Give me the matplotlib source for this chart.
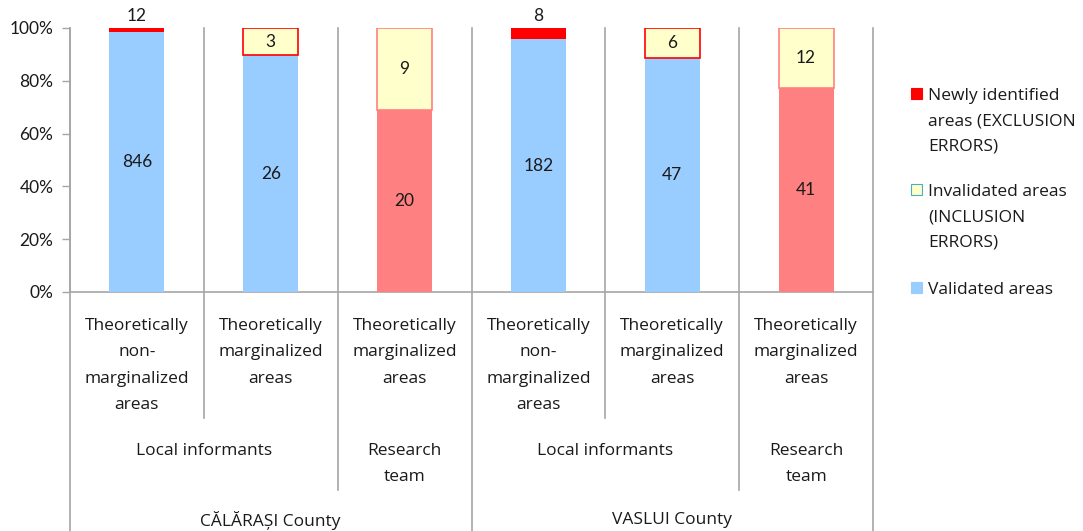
import matplotlib
matplotlib.use("Agg")
import matplotlib.pyplot as plt
import matplotlib.transforms as mtransforms
from matplotlib.patches import Rectangle

plt.rcParams['font.family'] = ['Lato', 'DejaVu Sans']
WIDE = ['Open Sans', 'DejaVu Sans']

# data
categories = ['Theoretically\nnon-\nmarginalized\nareas', 'Theoretically\nmarginalized\nareas',
              'Theoretically\nmarginalized\nareas', 'Theoretically\nnon-\nmarginalized\nareas',
              'Theoretically\nmarginalized\nareas', 'Theoretically\nmarginalized\nareas']
groups = ['Local informants', 'Research\nteam', 'Local informants', 'Research\nteam']
group_span = [(0, 1), (2, 2), (3, 4), (5, 5)]
counties = ['CĂLĂRAȘI County', 'VASLUI County']
county_span = [(0, 2), (3, 5)]

validated = [846, 26, 20, 182, 47, 41]
invalidated = [0, 3, 9, 0, 6, 12]
newly = [12, 0, 0, 8, 0, 0]
research = [False, False, True, False, False, True]

legend_labels = ['Newly identified\nareas (EXCLUSION\nERRORS)', 'Invalidated areas\n(INCLUSION\nERRORS)',
                 'Validated areas']

BLUE = '#99CCFF'
SALMON = '#FF8080'
YELLOW = '#FFFFCC'
RED = '#FF0000'
GRID = '#A6A6A6'
TXT = '#1a1a1a'

W, H = 1083, 531
fig = plt.figure(figsize=(W / 100, H / 100), dpi=100)
# axes: x 70..873 px, y 28..292 px
ax = fig.add_axes([70 / W, (H - 292) / H, (873 - 70) / W, 264 / H])

x = list(range(len(categories)))
totals = [v + i + n for v, i, n in zip(validated, invalidated, newly)]
pv = [100 * v / t for v, t in zip(validated, totals)]
pi = [100 * i / t for i, t in zip(invalidated, totals)]
pn = [100 * n / t for n, t in zip(newly, totals)]

bw = 0.41
vcol = [SALMON if r else BLUE for r in research]
ax.bar(x, pv, bw, color=vcol, linewidth=0, zorder=3)
iedge = [SALMON if r else RED for r in research]
for xi, b, h, ec in zip(x, pv, pi, iedge):
    if h > 0:
        ax.bar(xi, h, bw, bottom=b, color=YELLOW, edgecolor=ec, linewidth=1.2, zorder=3)
bottom3 = [a + b for a, b in zip(pv, pi)]
ax.bar(x, pn, bw, bottom=bottom3, color=RED, linewidth=0, zorder=3)

# value labels
for xi in x:
    ax.text(xi, pv[xi] / 2, str(validated[xi]), ha='center', va='center', fontsize=12.5, color=TXT, zorder=5)
    if invalidated[xi]:
        ax.text(xi, pv[xi] + pi[xi] / 2, str(invalidated[xi]), ha='center', va='center',
                fontsize=12.5, color=TXT, zorder=5)
    if newly[xi]:
        ax.annotate(str(newly[xi]), (xi, 100), xytext=(0, 3), textcoords='offset points',
                    ha='center', va='bottom', fontsize=12.5, color=TXT, annotation_clip=False)

ax.set_xlim(-0.5, len(x) - 0.5)
ax.set_ylim(0, 100)
ax.set_yticks([0, 20, 40, 60, 80, 100])
ax.set_yticklabels(['0%', '20%', '40%', '60%', '80%', '100%'], fontsize=12.5, color=TXT)
ax.tick_params(axis='y', length=6, width=1, color=GRID, pad=6)
ax.set_xticks([])
for s in ['top', 'right']:
    ax.spines[s].set_visible(False)
ax.spines['left'].set_color(GRID)
ax.spines['bottom'].set_color(GRID)
ax.spines['left'].set_linewidth(1.2)
ax.spines['bottom'].set_linewidth(1.2)


def yf(ypix):
    return (292 - ypix) / 264


trans = mtransforms.blended_transform_factory(ax.transData, ax.transAxes)

# separator lines
line_bottom = {0.5: 418, 1.5: 490, 2.5: 531, 3.5: 418, 4.5: 490, 5.5: 531, -0.5: 531}
for bx, yb in line_bottom.items():
    ax.plot([bx, bx], [1, yf(yb)], color=GRID, lw=1.2, transform=trans, clip_on=False, zorder=1)

# category labels
for xi, lab in zip(x, categories):
    ax.text(xi, yf(318), lab, ha='center', va='top', fontsize=12.5, color=TXT, family=WIDE,
            linespacing=1.86, transform=trans)
for (a, b), g in zip(group_span, groups):
    ax.text((a + b) / 2, yf(443), g, ha='center', va='top', fontsize=12.5, color=TXT, family=WIDE,
            linespacing=1.8, transform=trans)
for (a, b), c in zip(county_span, counties):
    ax.text((a + b) / 2, yf(520), c, ha='center', va='center', fontsize=12.5, color=TXT, family=WIDE,
            transform=trans)

# legend
leg_items = [(RED, RED, 93), (YELLOW, '#4BACC6', 189), (BLUE, BLUE, 287)]
for (fc, ec, ymid), lab in zip(leg_items, legend_labels):
    fig.patches.append(Rectangle((911 / W, (H - ymid - 6) / H), 11 / W, 11 / H, facecolor=fc,
                                 edgecolor=ec, linewidth=0.8, transform=fig.transFigure))
    fig.text(928 / W, (H - ymid + 5) / H, lab, ha='left', va='top', fontsize=12.5, color=TXT,
             family=WIDE, linespacing=1.76)

fig.savefig('out.png', dpi=100)
